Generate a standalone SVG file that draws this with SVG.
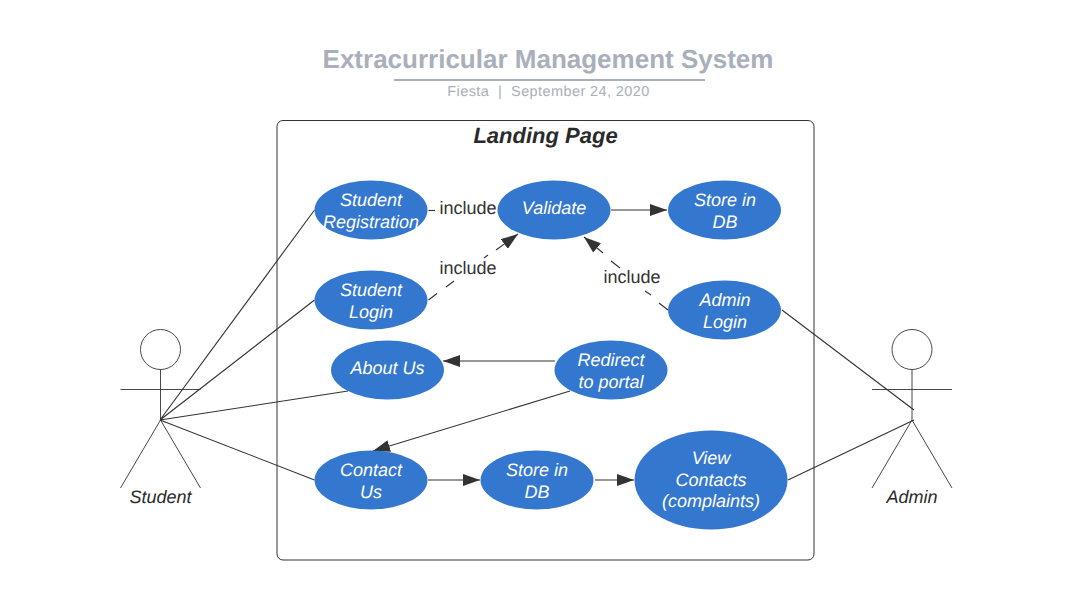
<svg xmlns="http://www.w3.org/2000/svg" width="1072" height="600" viewBox="0 0 1072 600">
<style>
text{font-family:"Liberation Sans",Arial,sans-serif;text-anchor:middle;text-rendering:geometricPrecision}
.uc ellipse{fill:#3377cf}
.uc text{fill:#fff;font-style:italic;font-size:18px}
.ln{fill:none;stroke:#333;stroke-width:1.1}
.stk{fill:none;stroke:#333;stroke-width:.9}
.lbl{fill:#333;font-size:18px}
.actor text{fill:#2a2a2a;font-style:italic;font-size:18px}
</style>
<defs><marker id="a" markerUnits="userSpaceOnUse" markerWidth="18" markerHeight="12" refX="17" refY="6" orient="auto"><path d="M0 0L17 6L0 12Z" fill="#333"/></marker></defs>
<rect width="1072" height="600" fill="#fff"/>
<g id="title">
<text x="548" y="68" font-size="26" font-weight="700" fill="#a9afbb">Extracurricular Management System</text>
<rect x="394" y="79" width="311" height="2" fill="#a9afbb"/>
<text x="548.500" y="96" font-size="14.500" letter-spacing=".4" fill="#a9afbb" xml:space="preserve">Fiesta  |  September 24, 2020</text>
</g>
<g id="boundary">
<rect x="277" y="120.500" width="537" height="439.500" rx="6" fill="none" stroke="#333" stroke-width="1"/>
<text x="545.500" y="143" font-size="22" font-weight="700" font-style="italic" fill="#2a2a2a">Landing Page</text>
</g>
<g id="connectors">
<path class="ln" d="M160 420L314.500 210M160 420L314.500 300M160 420L348 391M160 420L314.500 480M782 310L914 410M788 480L914 420"/>
<path class="ln" marker-end="url(#a)" d="M611 210H667"/>
<path class="ln" marker-end="url(#a)" d="M555 361H443"/>
<path class="ln" marker-end="url(#a)" d="M570 391L373 451"/>
<path class="ln" marker-end="url(#a)" d="M428 480H480"/>
<path class="ln" marker-end="url(#a)" d="M595 480H634"/>
<path class="ln" d="M428.500 210.500H435"/>
<path class="ln" marker-end="url(#a)" d="M496 250L518 234"/>
<path class="ln" d="M428.500 300L437 293.500M446 287L454 281M484 258L488 255"/>
<path class="ln" marker-end="url(#a)" d="M603 253L584 237"/>
<path class="ln" d="M611 261L620 268M645 291L651 295M659 303L668 310"/>
</g>
<g id="include-labels">
<text class="lbl" x="468" y="214">include</text>
<text class="lbl" x="468" y="274">include</text>
<text class="lbl" x="632" y="283">include</text>
</g>
<g id="student-registration" class="uc"><ellipse cx="371" cy="210" rx="56.500" ry="29.500"/><text x="371" y="206">Student</text><text x="371" y="228">Registration</text></g>
<g id="validate" class="uc"><ellipse cx="554" cy="210" rx="56.500" ry="29.500"/><text x="554" y="214">Validate</text></g>
<g id="store-db-top" class="uc"><ellipse cx="724.500" cy="210" rx="56.500" ry="29.500"/><text x="725" y="206">Store in</text><text x="725" y="228">DB</text></g>
<g id="student-login" class="uc"><ellipse cx="371" cy="300" rx="56.500" ry="29.500"/><text x="371" y="296">Student</text><text x="371" y="318">Login</text></g>
<g id="admin-login" class="uc"><ellipse cx="724.500" cy="310" rx="56.500" ry="29.500"/><text x="725" y="306">Admin</text><text x="725" y="328">Login</text></g>
<g id="about-us" class="uc"><ellipse cx="387.500" cy="370" rx="56.500" ry="29.500"/><text x="387.500" y="374">About Us</text></g>
<g id="redirect" class="uc"><ellipse cx="611" cy="370" rx="56.500" ry="29.500"/><text x="611" y="366">Redirect</text><text x="611" y="388">to portal</text></g>
<g id="contact-us" class="uc"><ellipse cx="371" cy="480" rx="56.500" ry="29.500"/><text x="371" y="476">Contact</text><text x="371" y="498">Us</text></g>
<g id="store-db-bottom" class="uc"><ellipse cx="537" cy="480" rx="56.500" ry="29.500"/><text x="537" y="476">Store in</text><text x="537" y="498">DB</text></g>
<g id="view-contacts" class="uc"><ellipse cx="711" cy="480" rx="76.500" ry="49.500"/><text x="711" y="464">View</text><text x="711" y="486">Contacts</text><text x="711" y="507">(complaints)</text></g>
<g id="student" class="actor"><circle class="stk" cx="160.500" cy="349.500" r="20"/><path class="stk" d="M160.500 369.500V420M120.500 389.500H200.500M160.500 420L120.500 488M160.500 420L200.500 488"/><text x="160.500" y="503">Student</text></g>
<g id="admin" class="actor"><circle class="stk" cx="912" cy="349.500" r="20"/><path class="stk" d="M912 369.500V420M872 389.500H952M912 420L872 488M912 420L952 488"/><text x="912" y="503">Admin</text></g>
</svg>
